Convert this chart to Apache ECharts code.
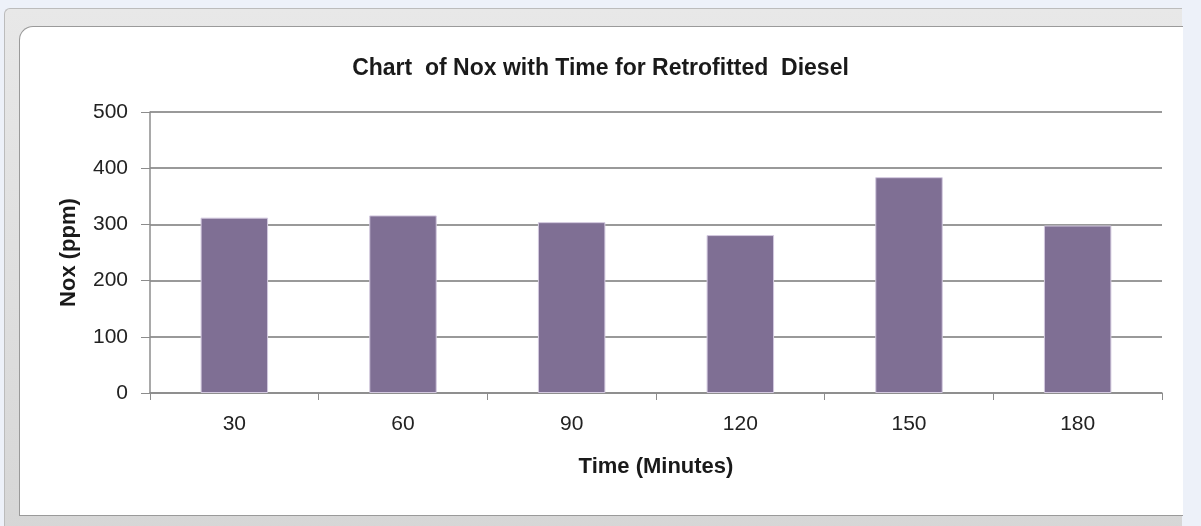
<!DOCTYPE html>
<html>
<head>
<meta charset="utf-8">
<script src="https://cdn.jsdelivr.net/npm/echarts@6/dist/echarts.min.js"></script>
<style>
    body { margin: 0; background: #edf1f9; width: 1201px; height: 526px; overflow: hidden; position: relative; }
    .frame {
        position: absolute; left: 4px; top: 8px; width: 1177px; height: 530px;
        background: linear-gradient(#e8e8e8, #d6d6d6);
        border: 1px solid #bcbcbc; border-right: none;
        border-radius: 6px 0 0 0;
    }
    .inner {
        position: absolute; left: 19px; top: 26px; width: 1163px; height: 488px;
        background: #fff;
        border: 1px solid #9a9a9a; border-right: none;
        border-radius: 14px 0 0 0;
    }
    #chart { position: absolute; left: 0; top: 0; width: 1201px; height: 526px; }
</style>
</head>
<body>
<div class="frame"></div>
<div class="inner"></div>
<div id="chart"></div>
<script>
// 数据
var categories = ['30', '60', '90', '120', '150', '180']
var noxValues = [312, 316, 304, 281, 384, 298]
var yTicks = [0, 100, 200, 300, 400, 500]

var chart = echarts.init(document.getElementById('chart'))
chart.setOption({
    animation: false,
    backgroundColor: 'transparent',
    textStyle: { fontFamily: '"Liberation Sans", Arial, sans-serif' },
    title: {
        text: 'Chart  of Nox with Time for Retrofitted  Diesel',
        left: 'center',
        top: 52,
        textStyle: { fontSize: 23, fontWeight: 'bold', color: '#1a1a1a' }
    },
    grid: {
        left: 150,
        right: 39,
        top: 112,
        bottom: 133,
        containLabel: false
    },
    xAxis: {
        type: 'category',
        data: categories,
        name: 'Time (Minutes)',
        nameLocation: 'middle',
        nameGap: 63,
        nameTextStyle: { fontSize: 22, fontWeight: 'bold', color: '#1a1a1a' },
        axisLine: { lineStyle: { color: '#8c8c8c', width: 1.5 } },
        axisTick: { show: true, length: 7, lineStyle: { color: '#8c8c8c' } },
        axisLabel: { fontSize: 21, color: '#222', margin: 21 }
    },
    yAxis: {
        type: 'value',
        min: yTicks[0],
        max: yTicks[yTicks.length - 1],
        interval: 100,
        name: 'Nox (ppm)',
        nameLocation: 'middle',
        nameGap: 70,
        nameTextStyle: { fontSize: 22, fontWeight: 'bold', color: '#1a1a1a' },
        axisLine: { show: true, lineStyle: { color: '#8c8c8c', width: 1.5 } },
        axisTick: { show: true, length: 9, lineStyle: { color: '#8c8c8c' } },
        axisLabel: { fontSize: 21, color: '#222', margin: 22 },
        splitLine: { lineStyle: { color: '#999', width: 2 } }
    },
    series: [{
        type: 'bar',
        data: noxValues,
        barWidth: '40%',
        itemStyle: {
            color: '#7f6f94',
            borderColor: '#d3c9df',
            borderWidth: 1
        }
    }]
})
</script>
</body>
</html>
